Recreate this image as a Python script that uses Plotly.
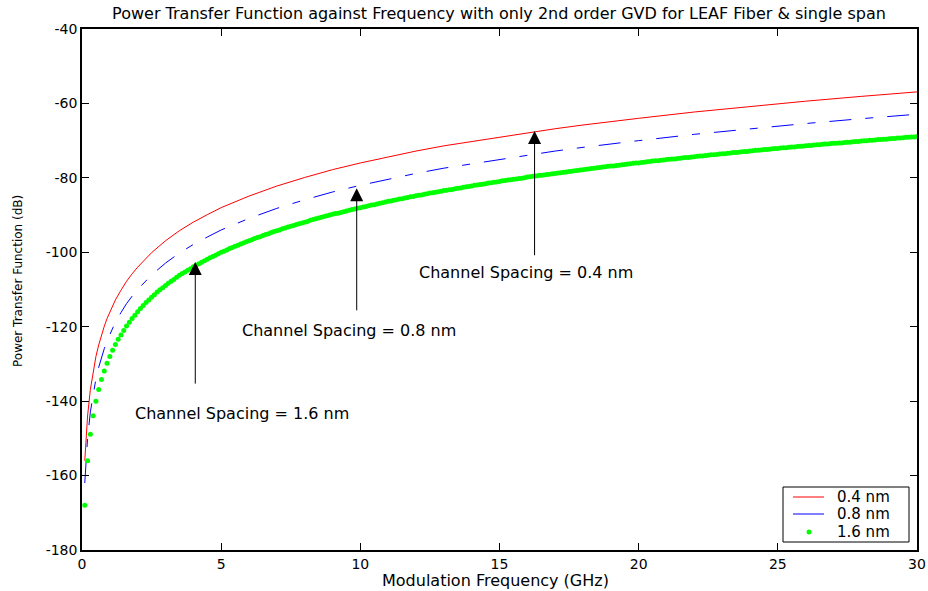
import plotly.graph_objects as go

# Modulation frequency grid (GHz) for the solid / dash-dot curves
line_freq = [0.1, 0.2, 0.3, 0.4, 0.5, 0.6, 0.7, 0.8, 0.9, 1.0, 1.2, 1.4, 1.6, 1.8,
             2.0, 2.5, 3.0, 3.5, 4.0, 4.5, 5.0, 6.0, 7.0, 8.0, 9.0, 10.0, 11.0,
             12.0, 13.0, 14.0, 15.0, 16.0, 17.0, 18.0, 19.0, 20.0, 22.0, 24.0,
             26.0, 28.0, 30.0]

# Power transfer function (dB), channel spacing 0.4 nm
ptf_04 = [-156.0, -144.0, -136.9, -131.9, -128.0, -124.9, -122.2, -119.9, -117.8,
          -116.0, -112.8, -110.2, -107.8, -105.8, -104.0, -100.1, -96.9, -94.2,
          -91.9, -89.9, -88.0, -84.9, -82.2, -79.9, -77.8, -76.0, -74.3, -72.8,
          -71.4, -70.2, -69.0, -67.8, -66.8, -65.8, -64.8, -64.0, -62.3, -60.8,
          -59.4, -58.1, -56.9]

# Power transfer function (dB), channel spacing 0.8 nm
ptf_08 = [-162.0, -150.0, -142.9, -137.9, -134.0, -130.9, -128.2, -125.9, -123.8,
          -122.0, -118.8, -116.2, -113.8, -111.8, -110.0, -106.1, -102.9, -100.2,
          -97.9, -95.9, -94.0, -90.9, -88.2, -85.9, -83.8, -82.0, -80.3, -78.8,
          -77.4, -76.2, -75.0, -73.8, -72.8, -71.8, -70.8, -70.0, -68.3, -66.8,
          -65.4, -64.1, -62.9]

# Sample points of the 1.6 nm curve: 0.1 GHz to 30 GHz every 0.1 GHz
dot_freq = [round(0.1 * i, 1) for i in range(1, 301)]

# Power transfer function (dB), channel spacing 1.6 nm
ptf_16 = [
    -168.0, -156.0, -148.9, -143.9, -140.0, -136.9, -134.2, -131.9, -129.8, -128.0,
    -126.3, -124.8, -123.4, -122.2, -121.0, -119.8, -118.8, -117.8, -116.9, -116.0,
    -115.1, -114.3, -113.5, -112.8, -112.1, -111.4, -110.7, -110.1, -109.5, -108.9,
    -108.3, -107.8, -107.3, -106.7, -106.2, -105.7, -105.3, -104.8, -104.4, -103.9,
    -103.5, -103.1, -102.7, -102.3, -101.9, -101.5, -101.1, -100.8, -100.4, -100.0,
    -99.7, -99.4, -99.0, -98.7, -98.4, -98.1, -97.8, -97.5, -97.2, -96.9,
    -96.6, -96.3, -96.0, -95.8, -95.5, -95.2, -95.0, -94.7, -94.4, -94.2,
    -94.0, -93.7, -93.5, -93.2, -93.0, -92.8, -92.5, -92.3, -92.1, -91.9,
    -91.7, -91.4, -91.2, -91.0, -90.8, -90.6, -90.4, -90.2, -90.0, -89.8,
    -89.6, -89.5, -89.3, -89.1, -88.9, -88.7, -88.5, -88.4, -88.2, -88.0,
    -87.8, -87.7, -87.5, -87.3, -87.2, -87.0, -86.8, -86.7, -86.5, -86.3,
    -86.2, -86.0, -85.9, -85.7, -85.6, -85.4, -85.3, -85.1, -85.0, -84.8,
    -84.7, -84.6, -84.4, -84.3, -84.1, -84.0, -83.9, -83.7, -83.6, -83.4,
    -83.3, -83.2, -83.1, -82.9, -82.8, -82.7, -82.5, -82.4, -82.3, -82.2,
    -82.0, -81.9, -81.8, -81.7, -81.6, -81.4, -81.3, -81.2, -81.1, -81.0,
    -80.8, -80.7, -80.6, -80.5, -80.4, -80.3, -80.2, -80.1, -80.0, -79.8,
    -79.7, -79.6, -79.5, -79.4, -79.3, -79.2, -79.1, -79.0, -78.9, -78.8,
    -78.7, -78.6, -78.5, -78.4, -78.3, -78.2, -78.1, -78.0, -77.9, -77.8,
    -77.7, -77.6, -77.5, -77.4, -77.3, -77.2, -77.1, -77.0, -76.9, -76.8,
    -76.8, -76.7, -76.6, -76.5, -76.4, -76.3, -76.2, -76.1, -76.0, -76.0,
    -75.9, -75.8, -75.7, -75.6, -75.5, -75.4, -75.4, -75.3, -75.2, -75.1,
    -75.0, -74.9, -74.9, -74.8, -74.7, -74.6, -74.5, -74.5, -74.4, -74.3,
    -74.2, -74.1, -74.1, -74.0, -73.9, -73.8, -73.8, -73.7, -73.6, -73.5,
    -73.5, -73.4, -73.3, -73.2, -73.2, -73.1, -73.0, -72.9, -72.9, -72.8,
    -72.7, -72.6, -72.6, -72.5, -72.4, -72.4, -72.3, -72.2, -72.1, -72.1,
    -72.0, -71.9, -71.9, -71.8, -71.7, -71.7, -71.6, -71.5, -71.5, -71.4,
    -71.3, -71.3, -71.2, -71.1, -71.1, -71.0, -70.9, -70.9, -70.8, -70.7,
    -70.7, -70.6, -70.6, -70.5, -70.4, -70.4, -70.3, -70.2, -70.2, -70.1,
    -70.0, -70.0, -69.9, -69.9, -69.8, -69.7, -69.7, -69.6, -69.6, -69.5,
    -69.4, -69.4, -69.3, -69.3, -69.2, -69.1, -69.1, -69.0, -69.0, -68.9,
]

legend_names = ["0.4 nm", "0.8 nm", "1.6 nm"]
x_ticks = [0, 5, 10, 15, 20, 25, 30]
y_ticks = [-180, -160, -140, -120, -100, -80, -60, -40]

# Callouts: (label, arrow x, arrow head y, arrow tail y, label x, label y)
callouts = [
    ("Channel Spacing = 1.6 nm", 4.07, -102.6, -135.7, 5.75, -143.2),
    ("Channel Spacing = 0.8 nm", 9.87, -82.8, -116.0, 9.61, -120.9),
    ("Channel Spacing = 0.4 nm", 16.26, -67.4, -101.2, 15.95, -105.3),
]

FONT = "DejaVu Sans"
RED, BLUE, GREEN = "#ff0000", "#0000ff", "#00ff00"
BLUE_DASH = "22px,14px,8px,14px"

W, H = 928, 591
L, R, T, B = 82, 11, 29, 41
pw, ph = W - L - R, H - T - B


def px_x(v):
    """Horizontal page pixel -> paper fraction of the plot area."""
    return (v - L) / pw


def px_y(v):
    """Vertical page pixel (from top) -> paper fraction of the plot area."""
    return (H - B - v) / ph


fig = go.Figure()
fig.add_trace(go.Scatter(x=line_freq, y=ptf_04, mode="lines", name=legend_names[0],
                         line=dict(color=RED, width=1)))
fig.add_trace(go.Scatter(x=line_freq, y=ptf_08, mode="lines", name=legend_names[1],
                         line=dict(color=BLUE, width=1, dash=BLUE_DASH)))
fig.add_trace(go.Scatter(x=dot_freq, y=ptf_16, mode="markers", name=legend_names[2],
                         marker=dict(color=GREEN, size=5, line=dict(width=0))))

annotations = []
for label, ax_x, head_y, tail_y, lx, ly in callouts:
    annotations.append(dict(
        x=ax_x, y=head_y, ax=ax_x, ay=tail_y, xref="x", yref="y",
        axref="x", ayref="y", text="", showarrow=True,
        arrowhead=2, arrowsize=2.6, arrowwidth=1, arrowcolor="black", standoff=0,
    ))
    annotations.append(dict(
        x=lx, y=ly, xref="x", yref="y", text=label, showarrow=False,
        xanchor="center", yanchor="middle",
        font=dict(family=FONT, size=16, color="black"),
    ))

# Axis titles
annotations.append(dict(
    x=px_x(495), y=px_y(580), xref="paper", yref="paper",
    text="Modulation Frequency (GHz)", showarrow=False,
    xanchor="center", yanchor="middle",
    font=dict(family=FONT, size=16, color="black"),
))
annotations.append(dict(
    x=px_x(18), y=px_y(281), xref="paper", yref="paper",
    text="Power Transfer Function (dB)", textangle=-90, showarrow=False,
    xanchor="center", yanchor="middle",
    font=dict(family=FONT, size=12, color="black"),
))

# Boxed key in the lower-right corner of the axes
shapes = [dict(type="rect", xref="paper", yref="paper",
               x0=px_x(783), x1=px_x(909), y0=px_y(542), y1=px_y(487),
               line=dict(color="black", width=1), fillcolor="white", layer="above")]
key_rows = [497, 514, 532]
shapes.append(dict(type="line", xref="paper", yref="paper",
                   x0=px_x(793), x1=px_x(824), y0=px_y(key_rows[0]), y1=px_y(key_rows[0]),
                   line=dict(color=RED, width=1), layer="above"))
shapes.append(dict(type="line", xref="paper", yref="paper",
                   x0=px_x(793), x1=px_x(824), y0=px_y(key_rows[1]), y1=px_y(key_rows[1]),
                   line=dict(color=BLUE, width=1), layer="above"))
shapes.append(dict(type="circle", xref="paper", yref="paper",
                   x0=px_x(806.5), x1=px_x(811.5), y0=px_y(key_rows[2] + 2.5),
                   y1=px_y(key_rows[2] - 2.5),
                   line=dict(width=0), fillcolor=GREEN, layer="above"))
for name, row in zip(legend_names, key_rows):
    annotations.append(dict(
        x=px_x(835), y=px_y(row), xref="paper", yref="paper", text=name,
        showarrow=False, xanchor="left", yanchor="middle",
        font=dict(family=FONT, size=15, color="black"),
    ))

axis_common = dict(
    ticks="inside", ticklen=7, tickwidth=1, tickcolor="black",
    showline=True, linecolor="black", linewidth=1.5, mirror="allticks",
    showgrid=False, zeroline=False, automargin=False,
    tickfont=dict(family=FONT, size=14, color="black"),
)

fig.update_layout(
    width=W, height=H,
    margin=dict(l=L, r=R, t=T, b=B, autoexpand=False),
    paper_bgcolor="white", plot_bgcolor="white",
    font=dict(family=FONT, color="black"),
    title=dict(
        text="Power Transfer Function against Frequency with only 2nd order GVD for LEAF Fiber & single span",
        x=px_x(499), xref="paper", xanchor="center",
        y=1 - 13 / H, yref="container", yanchor="middle",
        font=dict(family=FONT, size=16, color="black"),
    ),
    xaxis=dict(range=[0, 30], tickvals=x_ticks,
               ticktext=[str(v) for v in x_ticks], **axis_common),
    yaxis=dict(range=[-180, -40], tickvals=y_ticks,
               ticktext=[str(v) for v in y_ticks], **axis_common),
    annotations=annotations,
    shapes=shapes,
    showlegend=False,
)

fig.write_html("out.html")
